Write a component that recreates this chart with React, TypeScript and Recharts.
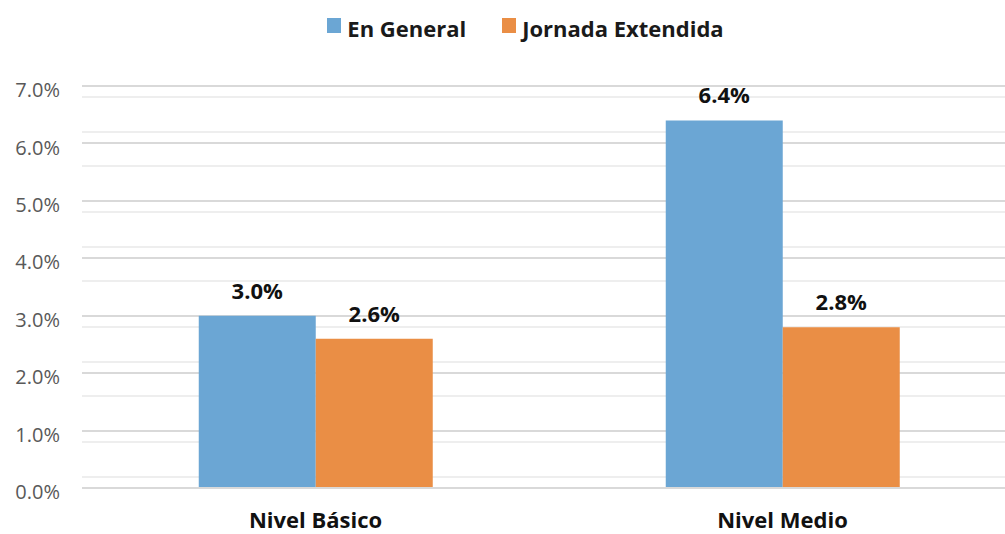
import React from 'react';
import { BarChart, Bar, XAxis, YAxis, CartesianGrid, LabelList } from 'recharts';

const categories = ['Nivel Básico', 'Nivel Medio'];
const enGeneral = [3.0, 6.4];
const jornadaExtendida = [2.6, 2.8];
const yTicks = [0, 1, 2, 3, 4, 5, 6, 7];
const minorTicks = [
    0.2, 0.4, 0.6, 0.8, 1.2, 1.4, 1.6, 1.8, 2.2, 2.4, 2.6, 2.8, 3.2, 3.4, 3.6, 3.8,
    4.2, 4.4, 4.6, 4.8, 5.2, 5.4, 5.6, 5.8, 6.2, 6.4, 6.6, 6.8,
];

const data = categories.map((name, i) => ({
    name,
    general: enGeneral[i],
    extendida: jornadaExtendida[i],
}));

const BLUE = '#6ba6d4';
const ORANGE = '#ea8e45';
const FONT = '"Open Sans", Lato, sans-serif';

const fmt = (v: number) => `${v.toFixed(1)}%`;

const series = [
    { c: BLUE, t: 'En General' },
    { c: ORANGE, t: 'Jornada Extendida' },
];

const labelStyle = { fill: '#111', fontSize: 22, fontWeight: 700, fontFamily: FONT };

const App: React.FC = () => {
    return (
        <div style={{ position: 'absolute', left: 0, top: 0, width: 1005, height: 534, overflow: 'hidden', background: '#fff' }}>
            <div style={{ position: 'absolute', top: 13, left: 0, width: 1005, boxSizing: 'border-box', paddingLeft: 46, display: 'flex', justifyContent: 'center', gap: 36, fontFamily: FONT, fontWeight: 700, fontSize: 22, color: '#1a1a1a', zIndex: 2 }}>
                {series.map((it) => (
                    <div key={it.t} style={{ display: 'flex', alignItems: 'center', gap: 6 }}>
                        <span style={{ width: 14, height: 15, background: it.c, display: 'inline-block', marginTop: -6 }} />
                        <span>{it.t}</span>
                    </div>
                ))}
            </div>
            <BarChart
                width={1020}
                height={534}
                data={data}
                margin={{ top: 86, right: 4, left: 0, bottom: 0 }}
                barCategoryGap="25%"
                barGap={0}
            >
                <CartesianGrid vertical={false} horizontalValues={minorTicks} stroke="#eeeeee" strokeWidth={2} shapeRendering="crispEdges" />
                <CartesianGrid vertical={false} horizontalValues={yTicks} stroke="#d9d9d9" strokeWidth={2} shapeRendering="crispEdges" />
                <XAxis
                    dataKey="name"
                    axisLine={{ stroke: '#d9d9d9', strokeWidth: 2 }}
                    tickLine={false}
                    tickSize={0}
                    tickMargin={24}
                    height={46}
                    tick={labelStyle}
                />
                <YAxis
                    domain={[0, 7]}
                    ticks={yTicks}
                    tickFormatter={fmt}
                    axisLine={false}
                    tickLine={false}
                    tickSize={0}
                    tickMargin={22}
                    width={82}
                    tick={{ fill: '#595959', fontSize: 20, fontFamily: FONT, dy: 4 }}
                />
                <Bar dataKey="general" name="En General" fill={BLUE} isAnimationActive={false}>
                    <LabelList dataKey="general" position="top" offset={17} formatter={(v: number) => fmt(v)} style={labelStyle} />
                </Bar>
                <Bar dataKey="extendida" name="Jornada Extendida" fill={ORANGE} isAnimationActive={false}>
                    <LabelList dataKey="extendida" position="top" offset={17} formatter={(v: number) => fmt(v)} style={labelStyle} />
                </Bar>
            </BarChart>
        </div>
    );
};

export default App;
